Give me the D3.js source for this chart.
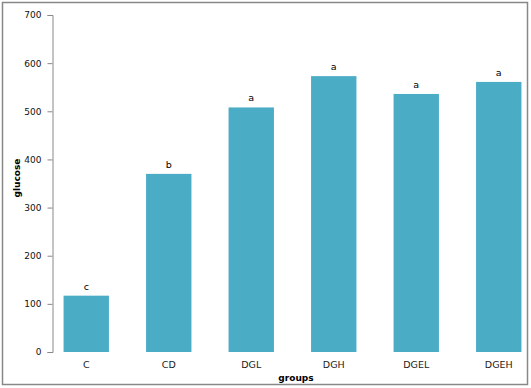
<!DOCTYPE html>
<html>
<head>
<meta charset="utf-8">
<script src="https://cdn.jsdelivr.net/npm/d3@7"></script>
<style>
  body { margin: 0; background: #fff; }
  text { font-family: "DejaVu Sans", Verdana, sans-serif; }
</style>
</head>
<body>
<script>
// data
var groups = ["C", "CD", "DGL", "DGH", "DGEL", "DGEH"];
var glucose = [117, 370, 508, 573, 536, 561];
var letters = ["c", "b", "a", "a", "a", "a"];
var yTicks = [0, 100, 200, 300, 400, 500, 600, 700];

var W = 531, H = 388;

var svg = d3.select("body").append("svg")
    .attr("width", W)
    .attr("height", H);

// frame around the chart
svg.append("rect")
    .attr("x", 2.5).attr("y", 2.5)
    .attr("width", 525).attr("height", 382)
    .attr("fill", "none")
    .attr("stroke", "#888")
    .attr("stroke-width", 1.5);

var x = d3.scaleBand()
    .domain(groups)
    .range([45, 540])
    .paddingInner(0.45)
    .paddingOuter(0.225);

var y = d3.scaleLinear()
    .domain([0, 700])
    .range([352, 15]);

// bars
svg.selectAll(".bar")
    .data(groups)
  .enter().append("rect")
    .attr("class", "bar")
    .attr("x", function(d) { return x(d); })
    .attr("y", function(d, i) { return y(glucose[i]); })
    .attr("width", x.bandwidth())
    .attr("height", function(d, i) { return y(0) - y(glucose[i]); })
    .attr("fill", "#4bacc6");

// significance letters
svg.selectAll(".letter")
    .data(groups)
  .enter().append("text")
    .attr("x", function(d) { return x(d) + x.bandwidth() / 2; })
    .attr("y", function(d, i) { return y(glucose[i]) - 6; })
    .attr("text-anchor", "middle")
    .attr("font-size", "9.5px")
    .attr("fill", "#000")
    .text(function(d, i) { return letters[i]; });

// y axis
var yAxis = svg.append("g")
    .attr("transform", "translate(52.5,0)")
    .call(d3.axisLeft(y).tickValues(yTicks).tickSize(5).tickPadding(6));
yAxis.select(".domain").attr("stroke", "#888");
yAxis.selectAll(".tick line").attr("stroke", "#888");
yAxis.selectAll(".tick text")
    .attr("font-size", "9px")
    .attr("fill", "#111")
    .style("font-family", "DejaVu Sans, Verdana, sans-serif");

// x labels
svg.selectAll(".xlab")
    .data(groups)
  .enter().append("text")
    .attr("x", function(d) { return x(d) + x.bandwidth() / 2; })
    .attr("y", 368)
    .attr("text-anchor", "middle")
    .attr("font-size", "9.5px")
    .attr("fill", "#222")
    .text(function(d) { return d; });

// axis titles
svg.append("text")
    .attr("x", 296)
    .attr("y", 381)
    .attr("text-anchor", "middle")
    .attr("font-size", "9px")
    .attr("font-weight", "bold")
    .attr("fill", "#000")
    .text("groups");

svg.append("text")
    .attr("transform", "translate(20,178) rotate(-90)")
    .attr("text-anchor", "middle")
    .attr("font-size", "9px")
    .attr("font-weight", "bold")
    .attr("fill", "#000")
    .text("glucose");
</script>
</body>
</html>
